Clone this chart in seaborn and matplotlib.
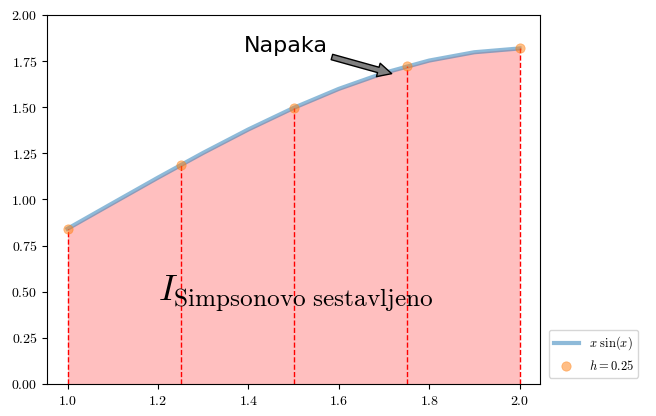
import matplotlib
matplotlib.use("Agg")
import matplotlib.pyplot as plt
import seaborn as sns
from matplotlib.ticker import FuncFormatter

curve_x = [1.0, 1.1, 1.2, 1.3, 1.4, 1.5, 1.6, 1.7, 1.8, 1.9, 2.0]
curve_y = [0.8415, 0.9803, 1.1184, 1.2526, 1.3796, 1.4962, 1.5994, 1.6858, 1.7529, 1.7980, 1.8186]
node_x = [1.0, 1.25, 1.5, 1.75, 2.0]
node_y = [0.8415, 1.1862, 1.4962, 1.7227, 1.8186]

plt.rcParams['mathtext.fontset'] = 'cm'
fig = plt.figure(figsize=(6.56, 4.16), dpi=100)
ax = fig.add_axes([0.072, 0.077, 0.751, 0.887])

ax.fill_between(curve_x, curve_y, color='red', alpha=0.25, lw=0)
sns.lineplot(x=curve_x, y=curve_y, ax=ax, lw=3, alpha=0.5, color='C0', label=r'$x\ \sin(x)$')
sns.scatterplot(x=node_x, y=node_y, ax=ax, s=45, alpha=0.5, color='C1', edgecolor='C1', label=r'$h=0.25$', zorder=3)
for xv, yv in zip(node_x, node_y):
    ax.plot([xv, xv], [0, yv], 'r--', lw=1)

ax.set_xlim(0.955, 2.045)
ax.set_ylim(0, 2)
ax.set_xticks([1.0, 1.2, 1.4, 1.6, 1.8, 2.0])
ax.set_yticks([0, 0.25, 0.5, 0.75, 1.0, 1.25, 1.5, 1.75, 2.0])
ax.xaxis.set_major_formatter(FuncFormatter(lambda v, p: f'${v:.1f}$'))
ax.yaxis.set_major_formatter(FuncFormatter(lambda v, p: f'${v:.2f}$'))

ax.text(1.2, 0.45, r'$I_{\mathrm{Simpsonovo\ sestavljeno}}$', fontsize=26)
ax.annotate('Napaka', xy=(1.72, 1.68), xytext=(1.39, 1.8), fontsize=16,
            arrowprops=dict(facecolor='gray', edgecolor='black', width=4, headwidth=10, headlength=10, shrink=0.02))

ax.legend(loc='lower left', bbox_to_anchor=(1.005, 0.0), fontsize=9)
fig.savefig('out.png', dpi=100)
